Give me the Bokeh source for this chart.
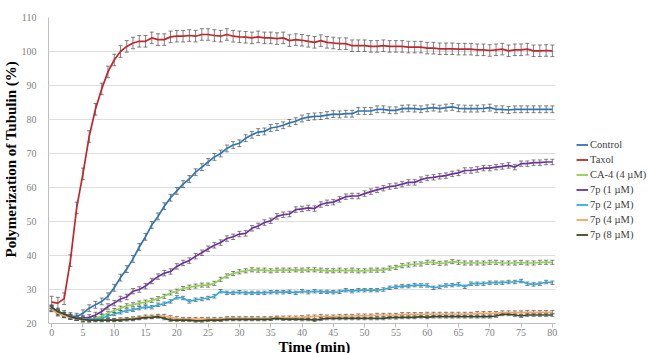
from bokeh.plotting import figure
from bokeh.layouts import row
from bokeh.models import (ColumnDataSource, Whisker, TeeHead, Legend, LegendItem,
                          FixedTicker, Title)
from bokeh.embed import file_html
from bokeh.resources import INLINE

# Time points (min)
time_min = list(range(0, 81))

control = [24.5, 23.5, 22.8, 22.2, 22.0, 23.0, 24.5, 25.5, 26.5, 28.0,
           30.5, 33.5, 36.0, 39.0, 42.5, 45.5, 49.0, 51.5, 54.5, 57.0,
           59.0, 61.0, 62.5, 64.5, 66.0, 67.5, 69.0, 70.0, 71.5, 72.5,
           73.0, 74.5, 75.5, 76.3, 76.5, 77.5, 77.8, 78.3, 79.0, 79.5,
           80.3, 80.7, 80.9, 81.0, 81.3, 81.6, 81.5, 81.7, 81.7, 82.5,
           82.5, 82.5, 83.0, 83.0, 82.7, 82.7, 83.2, 83.3, 83.2, 83.0,
           83.3, 83.5, 83.2, 83.5, 83.7, 83.3, 83.2, 83.2, 83.2, 83.3,
           83.5, 83.0, 83.0, 82.8, 83.0, 83.0, 83.0, 83.0, 83.0, 83.0, 83.0]

taxol = [26.3, 26.0, 27.3, 38.5, 54.0, 64.0, 75.0, 83.0, 89.0, 94.0,
         97.5, 100.0, 101.5, 102.5, 103.0, 103.0, 104.0, 103.5, 103.5, 104.3,
         104.5, 104.5, 104.7, 104.5, 105.0, 105.0, 104.7, 104.5, 105.0, 104.5,
         104.3, 104.2, 104.0, 104.3, 104.0, 104.0, 103.8, 104.0, 103.2, 103.5,
         103.3, 103.0, 102.7, 103.2, 102.7, 102.5, 102.3, 102.3, 101.7, 101.7,
         101.7, 101.5, 101.5, 101.7, 101.5, 101.5, 101.5, 101.3, 101.3, 101.3,
         101.0, 101.0, 100.8, 100.8, 100.8, 100.7, 100.7, 100.7, 100.5, 100.5,
         100.3, 100.5, 100.7, 100.2, 100.5, 100.5, 100.7, 100.2, 100.2, 100.3, 100.2]

ca4 = [24.5, 23.5, 22.7, 22.0, 21.5, 21.0, 21.0, 21.5, 22.2, 23.0,
       23.8, 24.5, 25.2, 25.5, 26.0, 26.3, 26.8, 27.3, 28.0, 29.0,
       29.5, 30.3, 30.7, 31.0, 31.3, 31.3, 31.8, 33.0, 34.0, 34.7,
       35.2, 35.5, 35.8, 35.7, 35.7, 35.5, 35.7, 35.7, 35.7, 35.8,
       35.7, 35.8, 35.8, 35.7, 35.5, 35.5, 35.7, 35.5, 35.7, 35.5,
       35.5, 35.7, 35.7, 35.7, 36.3, 36.5, 37.0, 37.2, 37.5, 37.5,
       38.0, 38.0, 37.7, 37.8, 38.2, 38.0, 37.8, 37.8, 37.8, 37.8,
       38.0, 38.0, 37.8, 37.8, 37.8, 38.0, 37.8, 37.8, 38.0, 38.0, 38.0]

p7_1um = [24.5, 23.0, 22.5, 22.0, 21.7, 21.5, 21.8, 22.5, 23.5, 25.0,
          26.0, 27.2, 27.8, 29.5, 30.0, 31.0, 32.5, 33.8, 34.8, 35.3,
          36.8, 37.8, 38.5, 39.8, 40.8, 42.0, 43.0, 43.8, 45.0, 45.5,
          46.3, 46.5, 48.0, 48.7, 49.7, 50.2, 51.5, 52.0, 52.2, 53.5,
          53.7, 54.0, 53.8, 55.0, 55.5, 55.7, 56.5, 57.3, 57.5, 57.5,
          58.2, 58.8, 59.3, 59.8, 60.3, 60.5, 61.0, 61.5, 61.5, 62.3,
          62.8, 63.0, 63.3, 63.5, 64.0, 64.3, 65.0, 65.0, 65.3, 65.7,
          65.7, 66.0, 66.2, 66.5, 66.0, 67.0, 67.0, 67.3, 67.3, 67.5, 67.5]

p7_2um = [24.5, 23.3, 22.5, 22.0, 21.5, 21.3, 21.3, 21.3, 21.5, 22.2,
          22.8, 23.3, 23.8, 24.0, 24.5, 24.8, 24.8, 25.5, 25.8, 26.5,
          27.7, 27.5, 26.5, 27.0, 27.2, 27.5, 28.0, 29.5, 29.0, 29.0,
          29.2, 29.0, 29.0, 29.0, 29.0, 29.2, 29.2, 29.2, 29.3, 29.0,
          29.5, 29.2, 29.5, 29.3, 29.3, 29.2, 29.3, 29.8, 29.5, 29.8,
          29.8, 29.8, 29.8, 30.0, 30.5, 30.8, 31.0, 31.0, 31.3, 31.2,
          31.2, 30.5, 30.8, 31.2, 31.3, 31.5, 30.8, 31.7, 31.7, 31.7,
          32.0, 32.0, 32.0, 32.2, 32.2, 32.5, 31.7, 31.5, 31.7, 32.2, 32.0]

p7_4um = [24.0, 23.0, 22.3, 21.8, 21.5, 21.2, 21.0, 21.0, 21.0, 21.0,
          21.0, 21.2, 21.3, 21.5, 21.7, 22.0, 22.0, 22.2, 22.2, 21.8,
          21.5, 21.3, 21.3, 21.3, 21.3, 21.3, 21.3, 21.3, 21.5, 21.5,
          21.5, 21.5, 21.5, 21.5, 21.5, 21.5, 21.7, 21.7, 21.7, 21.7,
          21.8, 22.0, 22.0, 22.2, 22.0, 22.0, 22.2, 22.2, 22.2, 22.3,
          22.3, 22.3, 22.5, 22.5, 22.5, 22.5, 22.7, 22.7, 22.7, 22.7,
          22.8, 22.8, 22.8, 22.8, 22.8, 22.8, 22.8, 22.8, 23.0, 23.0,
          23.0, 23.0, 23.2, 23.2, 23.2, 23.2, 23.3, 23.3, 23.3, 23.3, 23.3]

p7_8um = [24.8, 23.5, 22.8, 22.0, 21.5, 21.2, 21.0, 21.0, 21.0, 21.0,
          21.0, 21.0, 21.2, 21.2, 21.5, 21.7, 21.8, 22.0, 21.5, 21.0,
          21.0, 21.0, 21.0, 20.8, 20.8, 21.0, 21.0, 21.0, 21.2, 21.2,
          21.2, 21.2, 21.2, 21.2, 21.2, 21.3, 21.5, 21.3, 21.3, 21.3,
          21.2, 21.2, 21.0, 21.3, 21.5, 21.5, 21.5, 21.5, 21.5, 21.5,
          21.5, 21.5, 21.5, 21.5, 21.7, 21.7, 21.8, 21.8, 21.8, 22.0,
          21.8, 22.0, 22.0, 22.0, 22.0, 22.0, 22.0, 22.0, 22.0, 22.0,
          22.0, 22.2, 22.7, 22.7, 22.5, 22.2, 22.5, 22.5, 22.5, 22.5, 22.5]

# Standard deviation (error bar half-length) per series
err_control = 1.0
err_taxol = 1.7
err_ca4 = 0.6
err_7p_1 = 0.8
err_7p_2 = 0.5
err_7p_4 = 0.5
err_7p_8 = 0.4

series_labels = ["Control", "Taxol", "CA-4 (4 \u00b5M)", "7p (1 \u00b5M)",
                 "7p (2 \u00b5M)", "7p (4 \u00b5M)", "7p (8 \u00b5M)"]
series_values = [control, taxol, ca4, p7_1um, p7_2um, p7_4um, p7_8um]
series_errors = [err_control, err_taxol, err_ca4, err_7p_1, err_7p_2, err_7p_4, err_7p_8]
series_colors = ["#2e75b6", "#c0282d", "#92d050", "#7030a0",
                 "#29b0e3", "#f4a460", "#3a4a28"]

x_ticks = list(range(0, 81, 5))
y_ticks = list(range(20, 111, 10))

SERIF = "Liberation Serif"
MAIN_W = 560

p = figure(width=MAIN_W, height=353, x_range=(-0.5, 80.5), y_range=(20, 110),
           output_backend="svg", toolbar_location=None,
           min_border_left=48, min_border_right=5,
           min_border_top=17, min_border_bottom=30)
p.outline_line_color = None
p.background_fill_color = "white"

p.xgrid.grid_line_color = None
p.ygrid.grid_line_color = "#dedede"
p.ygrid.grid_line_width = 1

p.xaxis.ticker = FixedTicker(ticks=x_ticks)
p.yaxis.ticker = FixedTicker(ticks=y_ticks)
for ax in (p.xaxis, p.yaxis):
    ax.axis_line_color = "#bfbfbf"
    ax.major_label_text_font = SERIF
    ax.major_label_text_font_size = "10px"
    ax.major_label_text_color = "#7f7f7f"
    ax.minor_tick_line_color = None
p.xaxis.major_tick_line_color = "#bfbfbf"
p.xaxis.major_tick_in = 0
p.xaxis.major_tick_out = 4
p.xaxis.major_label_standoff = 1
p.yaxis.major_tick_line_color = None
p.yaxis.major_label_standoff = 6

for vals, err, color in zip(series_values, series_errors, series_colors):
    src = ColumnDataSource(dict(t=time_min, y=vals,
                                lo=[v - err for v in vals],
                                hi=[v + err for v in vals]))
    w = Whisker(base="t", lower="lo", upper="hi", source=src,
                line_color="#555555", line_width=1, line_alpha=0.75,
                upper_head=TeeHead(size=4, line_color="#555555", line_alpha=0.75),
                lower_head=TeeHead(size=4, line_color="#555555", line_alpha=0.75))
    p.add_layout(w)
    p.line("t", "y", source=src, line_color=color, line_width=1.7)

# Axis titles, placed in the side panels
p.add_layout(Title(text="Polymerization of Tubulin (%)", align="left", offset=66,
                   standoff=0, text_font=SERIF, text_font_size="15px",
                   text_font_style="bold", text_color="black"), "left")
p.add_layout(Title(text="Time (min)", align="left", offset=230,
                   standoff=-4, text_font=SERIF, text_font_size="15px",
                   text_font_style="bold", text_color="black"), "below")

# Legend panel to the right of the chart
leg = figure(width=648 - MAIN_W, height=353, x_range=(0, 1), y_range=(0, 1),
             x_axis_type=None, y_axis_type=None, output_backend="svg",
             toolbar_location=None, min_border=0)
leg.outline_line_color = None
items = []
for label, color in zip(series_labels, series_colors):
    r = leg.line(x=[float("nan")], y=[float("nan")], line_color=color, line_width=1.8)
    items.append(LegendItem(label=label, renderers=[r]))
legend = Legend(items=items, location=(16, 81),
                glyph_width=12, glyph_height=15, label_height=15,
                label_standoff=2, spacing=0, padding=0, margin=0,
                label_text_font=SERIF, label_text_font_size="10.5px",
                label_text_color="#404040",
                border_line_color=None, background_fill_alpha=0)
leg.add_layout(legend)

open("out.html", "w").write(file_html(row(p, leg), INLINE))
